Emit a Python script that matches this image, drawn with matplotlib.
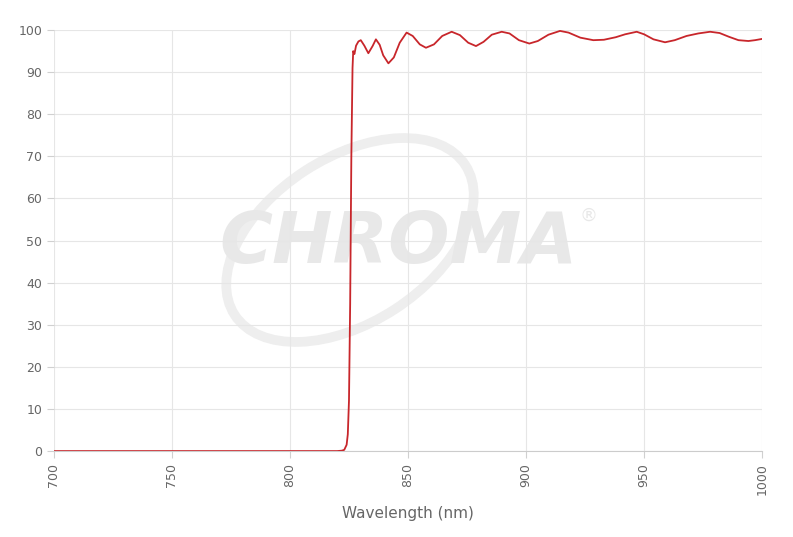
import matplotlib.pyplot as plt
from matplotlib.patches import Ellipse
from matplotlib.transforms import IdentityTransform

# transmission curve
wavelength = [700, 750, 800, 820, 822, 823, 824, 824.5, 825, 825.5, 826, 826.5, 826.8,
              827.3, 828, 829, 830, 831.5, 833.2, 835, 836.4, 838, 839.5, 841.7, 844, 846.5,
              849.4, 852, 855, 857.6, 861, 864.5, 868.5, 872, 875.5, 878.8, 882, 885.5,
              889.7, 893, 897, 901.4, 905, 909.5, 914.4, 918, 923, 928.5, 933, 938,
              942, 946.9, 950, 954, 958.9, 963, 968, 973, 978, 982, 986, 990, 994.2,
              997, 1000]
transmission = [0, 0, 0, 0, 0.1, 0.3, 1.5, 4, 12, 35, 70, 91, 95,
                94.3, 96.3, 97.3, 97.6, 96.3, 94.5, 96.2, 97.8, 96.5, 94, 92.1, 93.5, 97,
                99.4, 98.6, 96.6, 95.8, 96.6, 98.6, 99.6, 98.8, 97, 96.2, 97.2, 98.9,
                99.6, 99.2, 97.6, 96.8, 97.4, 98.9, 99.8, 99.4, 98.2, 97.6, 97.7, 98.3,
                99.0, 99.6, 99.0, 97.8, 97.1, 97.6, 98.6, 99.2, 99.6, 99.3, 98.4, 97.6, 97.4,
                97.6, 97.9]

xticks = [700, 750, 800, 850, 900, 950, 1000]
yticks = list(range(0, 101, 10))

fig = plt.figure(figsize=(7.93, 5.37), dpi=100)
ax = fig.add_axes([0.068, 0.160, 0.893, 0.784])

# faint watermark, placed in pixel coordinates
H = 537
ax.add_patch(Ellipse((350, H - 240), 275, 165, angle=33, fill=False, ec='#eeeeee',
                     lw=7, transform=IdentityTransform(), zorder=0))
ax.text(399, H - 243, 'CHROMA', fontsize=52, fontweight='bold', style='italic',
        color='#e8e8e8', ha='center', va='center', transform=IdentityTransform(), zorder=0)
ax.text(588, H - 216, '®', fontsize=13, color='#e8e8e8', ha='center', va='center',
        transform=IdentityTransform(), zorder=0)

ax.plot(wavelength, transmission, color='#c8262b', lw=1.3, zorder=3)

ax.set_xlim(700, 1000)
ax.set_ylim(0, 100)
ax.set_xticks(xticks)
ax.set_yticks(yticks)
ax.tick_params(axis='x', labelrotation=90, colors='#d0d0d0', labelcolor='#666666', labelsize=9, length=5)
ax.tick_params(axis='y', colors='#d0d0d0', labelcolor='#666666', labelsize=9, length=5)
ax.grid(color='#e6e6e6', lw=0.8)
for s in ax.spines.values():
    s.set_visible(False)
ax.spines['bottom'].set_visible(True)
ax.spines['bottom'].set_color('#cccccc')
ax.set_xlabel('Wavelength (nm)', color='#666666', fontsize=11, labelpad=8)

fig.savefig('out.png', dpi=100)
